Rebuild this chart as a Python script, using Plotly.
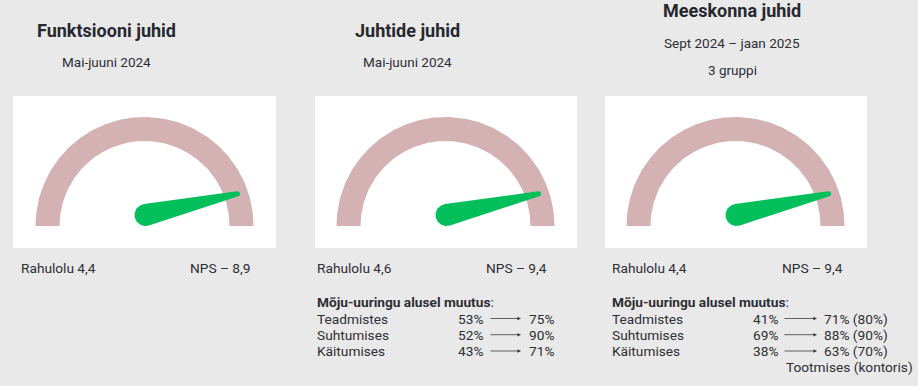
import numpy as np
import plotly.graph_objects as go

W, H = 918, 386

# ---------------- data ----------------
titles = ["Funktsiooni juhid", "Juhtide juhid", "Meeskonna juhid"]
periods = ["Mai-juuni 2024", "Mai-juuni 2024", "Sept 2024 – jaan 2025"]
groups = ["", "", "3 gruppi"]
satisfaction = ["4,4", "4,6", "4,4"]
nps = ["8,9", "9,4", "9,4"]
needle_values = [9.28, 9.28, 9.28]
gauge_min, gauge_max = 0, 10

impact_heading = "Mõju-uuringu alusel muutus"
impact_rows = ["Teadmistes", "Suhtumises", "Käitumises"]
before_p2 = [53, 52, 43]
after_p2 = [75, 90, 71]
before_p3 = [41, 69, 38]
after_p3 = [71, 88, 63]
target_p3 = [80, 90, 70]
p3_note = "Tootmises (kontoris)"

# ---------------- style / layout ----------------
BG = "#e9e9e9"
ARC = "#d4b1b2"
NEEDLE = "#03bf5b"
TXT = "#2e2e36"
TITLE = "#27272f"
FONT = "Roboto"

panels = [dict(left=13, right=276, cx=144.5),
          dict(left=315, right=577, cx=445.5),
          dict(left=605, right=867, cx=735.5)]
TOP, BOTTOM, CY = 96, 248, 226
R_OUT, R_IN = 109.0, 85.0

fig = go.Figure()

for i, p in enumerate(panels):
    sfx = "" if i == 0 else str(i + 1)
    # arc (gauge band) in units of the outer radius
    t = np.linspace(0, np.pi, 181)
    rin = R_IN / R_OUT
    ax_x = np.concatenate([np.cos(t), rin * np.cos(t[::-1]), [1.0]])
    ax_y = np.concatenate([np.sin(t), rin * np.sin(t[::-1]), [0.0]])
    fig.add_trace(go.Scatter(x=ax_x, y=ax_y, mode="lines", fill="toself",
                             fillcolor=ARC, line=dict(width=0, color=ARC),
                             hoverinfo="skip", showlegend=False,
                             xaxis="x" + sfx, yaxis="y" + sfx))
    # needle
    v = needle_values[i]
    th = np.pi * (1 - (v - gauge_min) / (gauge_max - gauge_min))
    px, py = 1.0 / R_OUT, 11.0 / R_OUT
    L = 94.4 / R_OUT
    r0, r1 = 11.0 / R_OUT, 2.6 / R_OUT
    tx, ty = px + L * np.cos(th), py + L * np.sin(th)
    a = np.arccos((r0 - r1) / L)
    big = np.linspace(th + a, th + 2 * np.pi - a, 80)
    tip = np.linspace(th - a, th + a, 30)
    nx = np.concatenate([px + r0 * np.cos(big), tx + r1 * np.cos(tip), [px + r0 * np.cos(big[0])]])
    ny = np.concatenate([py + r0 * np.sin(big), ty + r1 * np.sin(tip), [py + r0 * np.sin(big[0])]])
    fig.add_trace(go.Scatter(x=nx, y=ny, mode="lines", fill="toself",
                             fillcolor=NEEDLE, line=dict(width=0, color=NEEDLE),
                             hoverinfo="skip", showlegend=False,
                             xaxis="x" + sfx, yaxis="y" + sfx))

    xr = [(p["left"] - p["cx"]) / R_OUT, (p["right"] - p["cx"]) / R_OUT]
    yr = [-(BOTTOM - CY) / R_OUT, (CY - TOP) / R_OUT]
    common = dict(showgrid=False, zeroline=False, showticklabels=False,
                  ticks="", showline=False, fixedrange=True)
    fig.update_layout(**{
        "xaxis" + sfx: dict(domain=[p["left"] / W, p["right"] / W], range=xr,
                            anchor="y" + sfx, **common),
        "yaxis" + sfx: dict(domain=[1 - BOTTOM / H, 1 - TOP / H], range=yr,
                            anchor="x" + sfx, **common),
    })

annots = []


def ann(text, x, y, size=13.7, bold=False, anchor="left", color=TXT):
    if bold:
        text = "<b>" + text + "</b>"
    annots.append(dict(text=text, x=x / W, y=1 - y / H, xref="paper", yref="paper",
                       xanchor=anchor, yanchor="middle", showarrow=False,
                       borderpad=0, borderwidth=0,
                       font=dict(family=FONT, size=size, color=color)))


def arrow(x0, x1, y):
    annots.append(dict(text="", x=x1 / W, y=1 - y / H, xref="paper", yref="paper",
                       ax=-(x1 - x0), ay=0, axref="pixel", ayref="pixel",
                       showarrow=True, arrowhead=2, arrowsize=0.9, arrowwidth=0.8,
                       arrowcolor="#3a3a40", standoff=0, startstandoff=0))


title_pos = [(106, 31, 62, None), (407, 31, 62, None), (732, 11, 43, 70)]
for i, (cx, ty, sy, gy) in enumerate(title_pos):
    ann(titles[i], cx, ty, size=18, bold=True, anchor="center", color=TITLE)
    ann(periods[i], cx, sy, size=13.5, anchor="center")
    if gy is not None:
        ann(groups[i], cx, gy, size=13.5, anchor="center")

bottom_pos = [(21, 190), (317, 486), (612, 782)]
for i, (lx, nxp) in enumerate(bottom_pos):
    ann("Rahulolu " + satisfaction[i], lx, 268)
    ann("NPS – " + nps[i], nxp, 268)

row_y = [318.5, 334.7, 351]
# panel 2 impact
ann("<b>" + impact_heading + "</b>:", 317, 302)
for k, name in enumerate(impact_rows):
    ann(name, 317, row_y[k])
    ann(f"{before_p2[k]}%", 483, row_y[k], anchor="right")
    arrow(489, 521, row_y[k])
    ann(f"{after_p2[k]}%", 529, row_y[k])
# panel 3 impact
ann("<b>" + impact_heading + "</b>:", 612, 302)
for k, name in enumerate(impact_rows):
    ann(name, 612, row_y[k])
    ann(f"{before_p3[k]}%", 778, row_y[k], anchor="right")
    arrow(783, 817, row_y[k])
    ann(f"{after_p3[k]}% ({target_p3[k]}%)", 824, row_y[k])
ann(p3_note, 786, 367)

fig.update_layout(width=W, height=H, margin=dict(l=0, r=0, t=0, b=0),
                  paper_bgcolor=BG, plot_bgcolor="white",
                  annotations=annots, showlegend=False,
                  font=dict(family=FONT, color=TXT))

fig.write_html("out.html", config={"displayModeBar": False},
               post_script="document.body.style.margin='0px';document.body.style.overflow='hidden';")
